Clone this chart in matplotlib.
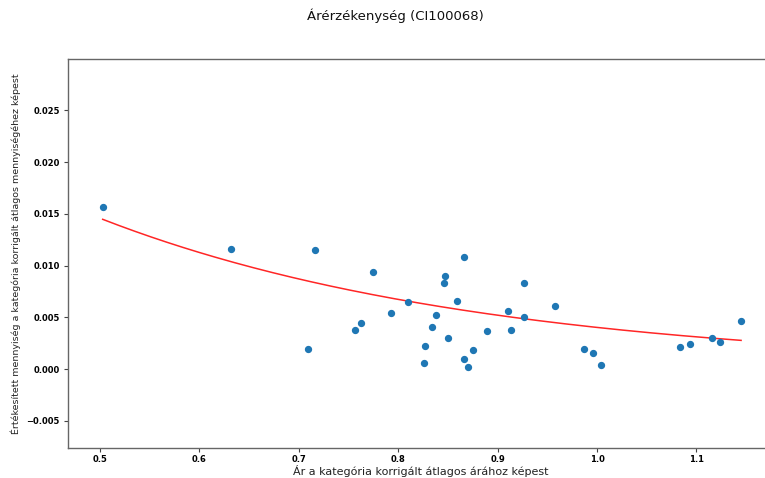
import numpy as np
import matplotlib
matplotlib.use("Agg")
import matplotlib.pyplot as plt

# Relative price vs. relative sold quantity, one point per product
price_ratio = [0.5027, 0.6318, 0.7089, 0.7166, 0.7562, 0.7623, 0.7747, 0.7928,
               0.8102, 0.8263, 0.8270, 0.8337, 0.8380, 0.8464, 0.8471, 0.8504,
               0.8592, 0.8662, 0.8662, 0.8702, 0.8749, 0.8893, 0.9101, 0.9131,
               0.9262, 0.9262, 0.9574, 0.9869, 0.9963, 1.0037, 1.0832, 1.0939,
               1.1157, 1.1237, 1.1449]
quantity_ratio = [0.01564, 0.01157, 0.00197, 0.01151, 0.00380, 0.00442, 0.00935, 0.00542,
                  0.00651, 0.00058, 0.00226, 0.00403, 0.00519, 0.00832, 0.00903, 0.00297,
                  0.00658, 0.01080, 0.00097, 0.00019, 0.00181, 0.00371, 0.00564, 0.00380,
                  0.00835, 0.00503, 0.00612, 0.00190, 0.00158, 0.00042, 0.00210, 0.00242,
                  0.00297, 0.00258, 0.00464]

# Exponential demand curve y = a * exp(b * x)
trend_a = 0.05285
trend_b = -2.576

title = "Árérzékenység (CI100068)"
xlabel = "Ár a kategória korrigált átlagos árához képest"
ylabel = "Értékesített mennyiség a kategória korrigált átlagos mennyiségéhez képest"
xticks = [0.5, 0.6, 0.7, 0.8, 0.9, 1.0, 1.1]
yticks = [-0.005, 0.000, 0.005, 0.010, 0.015, 0.020, 0.025]

W, H = 765, 478
fig = plt.figure(figsize=(W / 100, H / 100), dpi=100)
ax = fig.add_axes([68 / W, (H - 448) / H, (773 - 68) / W, (448 - 59) / H])

ax.scatter(price_ratio, quantity_ratio, s=18, color="#1f77b4", zorder=3)

xs = np.linspace(min(price_ratio), max(price_ratio), 200)
ax.plot(xs, trend_a * np.exp(trend_b * xs), color="red", linewidth=1.1, alpha=0.85)

ax.set_xlim(0.4678, 1.177)
ax.set_ylim(-0.00764, 0.02998)
ax.set_xticks(xticks)
ax.set_xticklabels([f"{t:.1f}" for t in xticks])
ax.set_yticks(yticks)
ax.set_yticklabels([f"{t:.3f}".replace("-", "\u2212") for t in yticks])

for lab in ax.get_xticklabels() + ax.get_yticklabels():
    lab.set_fontweight("bold")
    lab.set_fontsize(6)
ax.tick_params(axis="x", length=3, width=0.8, color="#444444", pad=2)
ax.tick_params(axis="y", length=3, width=0.8, color="#444444", pad=3)
for sp in ax.spines.values():
    sp.set_color("#666666")
    sp.set_linewidth(1.0)

ax.set_xlabel(xlabel, fontsize=8, color="#222222", labelpad=1)
ax.set_ylabel(ylabel, fontsize=6.8, color="#222222", labelpad=4)

fig.text(395 / W, 1 - 16 / H, title, ha="center", va="center", fontsize=9.5, color="#111111")

fig.savefig("out.png", dpi=100)
